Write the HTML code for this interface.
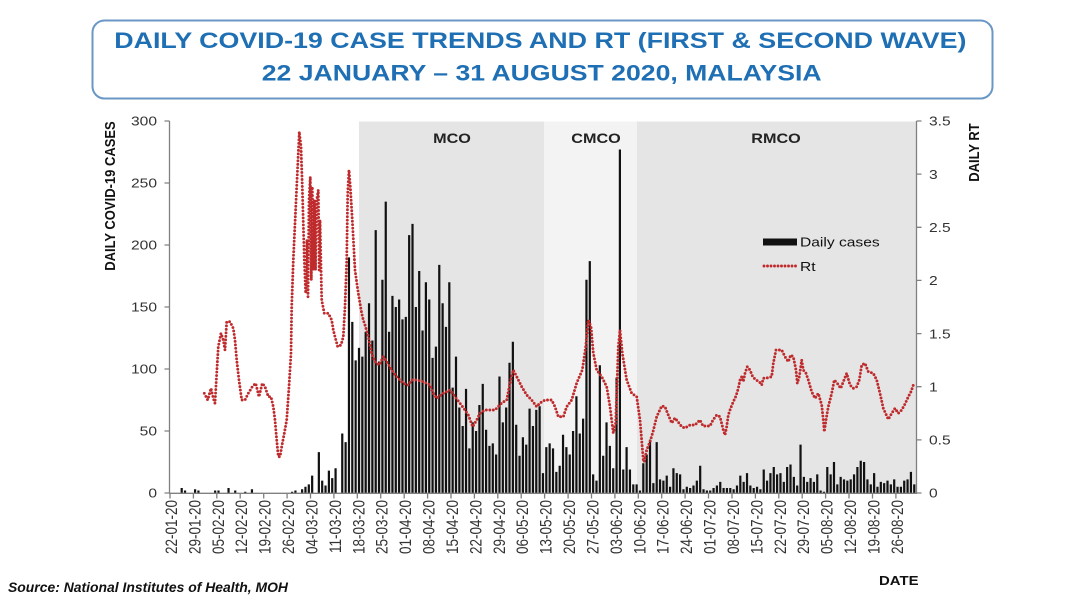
<!DOCTYPE html>
<html><head><meta charset="utf-8"><style>
html,body{margin:0;padding:0;background:#fff;width:1080px;height:607px;overflow:hidden}
svg{display:block}
</style></head><body>
<svg width="1080" height="607" viewBox="0 0 1080 607" font-family="'Liberation Sans', Arial, sans-serif">
<rect width="1080" height="607" fill="#fff"/>
<!-- Title box -->
<rect x="92.5" y="20.5" width="900" height="78" rx="12" fill="#fff" stroke="#6a97c6" stroke-width="2"/>
<text transform="translate(540.3,48) scale(1.22,1)" text-anchor="middle" font-size="22" font-weight="bold" fill="#1f6fb4">DAILY COVID-19 CASE TRENDS AND RT (FIRST &amp; SECOND WAVE)</text>
<text transform="translate(541.7,80.5) scale(1.21,1)" text-anchor="middle" font-size="22" font-weight="bold" fill="#1f6fb4">22 JANUARY – 31 AUGUST 2020, MALAYSIA</text>

<!-- Shaded regions -->
<rect x="359" y="121.5" width="185" height="371.5" fill="#e5e5e5"/>
<rect x="544" y="121.5" width="93" height="371.5" fill="#f3f3f3"/>
<rect x="637" y="121.5" width="279" height="371.5" fill="#e5e5e5"/>
<text transform="translate(452,143) scale(1.2,1)" text-anchor="middle" font-size="13.5" font-weight="bold" fill="#222">MCO</text>
<text transform="translate(596,143) scale(1.2,1)" text-anchor="middle" font-size="13.5" font-weight="bold" fill="#222">CMCO</text>
<text transform="translate(776,143) scale(1.2,1)" text-anchor="middle" font-size="13.5" font-weight="bold" fill="#222">RMCO</text>

<!-- Bars -->
<g transform="translate(170,493) scale(3.345,-1.24)" fill="#111">
<path d="M3.17 0h.66v4h-.66zM4.17 0h.66v2h-.66zM7.17 0h.66v3h-.66zM8.17 0h.66v2h-.66zM13.17 0h.66v2h-.66zM14.17 0h.66v2h-.66zM17.17 0h.66v4h-.66zM19.17 0h.66v2h-.66zM22.17 0h.66v1h-.66zM24.17 0h.66v3h-.66zM36.17 0h.66v1h-.66zM37.17 0h.66v2h-.66zM39.17 0h.66v3h-.66zM40.17 0h.66v5h-.66zM41.17 0h.66v7h-.66zM42.17 0h.66v14h-.66zM44.17 0h.66v33h-.66zM45.17 0h.66v10h-.66zM46.17 0h.66v6h-.66zM47.17 0h.66v18h-.66zM48.17 0h.66v12h-.66zM49.17 0h.66v20h-.66zM51.17 0h.66v48h-.66zM52.17 0h.66v41h-.66zM53.17 0h.66v190h-.66zM54.17 0h.66v138h-.66zM55.17 0h.66v107h-.66z
M56.17 0h.66v117h-.66zM57.17 0h.66v110h-.66zM58.17 0h.66v130h-.66zM59.17 0h.66v153h-.66zM60.17 0h.66v123h-.66zM61.17 0h.66v212h-.66zM62.17 0h.66v106h-.66zM63.17 0h.66v172h-.66zM64.17 0h.66v235h-.66zM65.17 0h.66v130h-.66z
M66.17 0h.66v159h-.66zM67.17 0h.66v150h-.66zM68.17 0h.66v156h-.66zM69.17 0h.66v140h-.66zM70.17 0h.66v142h-.66zM71.17 0h.66v208h-.66zM72.17 0h.66v217h-.66zM73.17 0h.66v150h-.66zM74.17 0h.66v179h-.66zM75.17 0h.66v131h-.66z
M76.17 0h.66v170h-.66zM77.17 0h.66v156h-.66zM78.17 0h.66v109h-.66zM79.17 0h.66v118h-.66zM80.17 0h.66v184h-.66zM81.17 0h.66v153h-.66zM82.17 0h.66v134h-.66zM83.17 0h.66v170h-.66zM84.17 0h.66v85h-.66zM85.17 0h.66v110h-.66z
M86.17 0h.66v69h-.66zM87.17 0h.66v54h-.66zM88.17 0h.66v84h-.66zM89.17 0h.66v36h-.66zM90.17 0h.66v57h-.66zM91.17 0h.66v50h-.66zM92.17 0h.66v71h-.66zM93.17 0h.66v88h-.66zM94.17 0h.66v51h-.66zM95.17 0h.66v38h-.66zM96.17 0h.66v40h-.66z
M97.17 0h.66v31h-.66zM98.17 0h.66v94h-.66zM99.17 0h.66v57h-.66zM100.17 0h.66v69h-.66zM101.17 0h.66v105h-.66zM102.17 0h.66v122h-.66zM103.17 0h.66v55h-.66zM104.17 0h.66v30h-.66zM105.17 0h.66v45h-.66zM106.17 0h.66v39h-.66z
M107.17 0h.66v68h-.66zM108.17 0h.66v54h-.66zM109.17 0h.66v67h-.66zM110.17 0h.66v70h-.66zM111.17 0h.66v16h-.66zM112.17 0h.66v37h-.66zM113.17 0h.66v40h-.66zM114.17 0h.66v36h-.66zM115.17 0h.66v17h-.66zM116.17 0h.66v22h-.66z
M117.17 0h.66v47h-.66zM118.17 0h.66v37h-.66zM119.17 0h.66v31h-.66zM120.17 0h.66v50h-.66zM121.17 0h.66v78h-.66zM122.17 0h.66v48h-.66zM123.17 0h.66v60h-.66zM124.17 0h.66v172h-.66zM125.17 0h.66v187h-.66zM126.17 0h.66v15h-.66z
M127.17 0h.66v10h-.66zM128.17 0h.66v103h-.66zM129.17 0h.66v30h-.66zM130.17 0h.66v57h-.66zM131.17 0h.66v38h-.66zM132.17 0h.66v20h-.66zM133.17 0h.66v93h-.66zM134.17 0h.66v277h-.66zM135.17 0h.66v19h-.66zM136.17 0h.66v37h-.66z
M137.17 0h.66v19h-.66zM138.17 0h.66v7h-.66zM139.17 0h.66v7h-.66zM140.17 0h.66v2h-.66z
M141.17 0h.66v24h-.66zM142.17 0h.66v31h-.66zM143.17 0h.66v43h-.66zM144.17 0h.66v8h-.66zM145.17 0h.66v41h-.66zM146.17 0h.66v11h-.66zM147.17 0h.66v10h-.66zM148.17 0h.66v14h-.66zM149.17 0h.66v5h-.66zM150.17 0h.66v20h-.66z
M151.17 0h.66v16h-.66zM152.17 0h.66v15h-.66zM153.17 0h.66v3h-.66zM154.17 0h.66v5h-.66zM155.17 0h.66v4h-.66zM156.17 0h.66v6h-.66zM157.17 0h.66v10h-.66zM158.17 0h.66v22h-.66zM159.17 0h.66v3h-.66zM160.17 0h.66v2h-.66z
M161.17 0h.66v2h-.66zM162.17 0h.66v4h-.66zM163.17 0h.66v6h-.66z
M164.17 0h.66v9h-.66zM165.17 0h.66v4h-.66zM166.17 0h.66v4h-.66zM167.17 0h.66v4h-.66zM168.17 0h.66v3h-.66zM169.17 0h.66v6h-.66zM170.17 0h.66v14h-.66zM171.17 0h.66v9h-.66zM172.17 0h.66v16h-.66zM173.17 0h.66v6h-.66z
M174.17 0h.66v4h-.66zM175.17 0h.66v5h-.66zM176.17 0h.66v3h-.66zM177.17 0h.66v19h-.66zM178.17 0h.66v10h-.66zM179.17 0h.66v16h-.66zM180.17 0h.66v21h-.66zM181.17 0h.66v15h-.66zM182.17 0h.66v16h-.66zM183.17 0h.66v9h-.66z
M184.17 0h.66v21h-.66zM185.17 0h.66v23h-.66zM186.17 0h.66v13h-.66zM187.17 0h.66v6h-.66zM188.17 0h.66v39h-.66zM189.17 0h.66v13h-.66zM190.17 0h.66v9h-.66zM191.17 0h.66v12h-.66zM192.17 0h.66v9h-.66zM193.17 0h.66v15h-.66z
M194.17 0h.66v2h-.66zM195.17 0h.66v1h-.66zM196.17 0h.66v21h-.66zM197.17 0h.66v15h-.66zM198.17 0h.66v25h-.66zM199.17 0h.66v7h-.66zM200.17 0h.66v13h-.66zM201.17 0h.66v11h-.66zM202.17 0h.66v10h-.66zM203.17 0h.66v11h-.66z
M204.17 0h.66v15h-.66zM205.17 0h.66v21h-.66zM206.17 0h.66v26h-.66zM207.17 0h.66v25h-.66zM208.17 0h.66v11h-.66zM209.17 0h.66v7h-.66zM210.17 0h.66v16h-.66zM211.17 0h.66v5h-.66zM212.17 0h.66v9h-.66zM213.17 0h.66v8h-.66z
M214.17 0h.66v10h-.66zM215.17 0h.66v7h-.66zM216.17 0h.66v11h-.66zM217.17 0h.66v5h-.66zM218.17 0h.66v5h-.66zM219.17 0h.66v10h-.66zM220.17 0h.66v11h-.66zM221.17 0h.66v17h-.66zM222.17 0h.66v7h-.66z"/>
</g>

<!-- Rt dotted line -->
<polyline fill="none" stroke="#bf2a2c" stroke-width="2.9" stroke-linecap="round" stroke-linejoin="round" stroke-dasharray="0 3.5" points="204.3,393.3 207.7,400 211,388.3 213.3,398.3 215,403.3 216.7,373.3 218.3,346.7 221,333.3 223.3,340 225,350 226.7,321.7 230,321.7 233.3,328.3 235,340 236.7,360 239,380 241.7,400 245,400 248.3,393.3 252.3,386.7 255.7,383.3 259,396.7 262.3,383.3 265,386.7 268.3,396.7 271,396.7 273.3,406.7 275,420 276.7,440 278.3,456.7 280,456.7 281.7,446.7 284.3,433.3 286.7,420 289,386.7 291,353.3 291.7,306.7 293.3,260 295,223.3 296.7,186.7 298.3,153.3 299.3,131.7 301,146.7 302.3,186.7 304.3,260 305.7,293.3 307,240 308,296.7 309,200 310.3,176.7 311.3,280 312.3,186.7 313.3,270 314.3,200 315.5,270 316.7,200 318.3,190 319.2,270 320,220 321.7,300 324.3,313.3 328.3,313.3 331.7,320 333.3,330 335,336.7 337.7,346.7 341,345 343.3,336.7 345,306.7 346.7,260 347.7,193.3 349,170 350.3,186.7 352.3,220 355,270 358.3,293.3 361.7,313.3 363.3,320 365,325 368.3,336.7 371.7,353.3 375,361.7 379.3,365 383.3,356.7 386.7,361.7 391.7,370 396.7,376.7 403.3,383.3 408.3,385 411.7,380 416.7,380 423.3,381.7 430,385 433.3,393.3 436.7,398.3 443.3,393.3 450,390 455,396.7 460,403.3 465,410 468.3,415 472.7,426.7 476.7,420 480,413.3 485,410 490,410 495,410 501.7,403 506.7,400 510,383 513.3,370 516.7,376.7 521.7,386.7 526.7,395 531.7,400 536.7,406.7 540,403 545,400 551.7,400 555,406.7 558.3,416.7 563.3,416.7 566.7,406.7 571.7,400 576.7,383 582.3,370 585.7,346.7 588.3,320 591,326.7 593.3,353 596.7,370 601.7,376.7 606.7,386.7 610,406.7 613.3,433 615.7,423 618.3,346.7 620,330 622.3,353 626.7,380 631.7,393.3 636.7,396.7 640,420 643.3,460 644,462 646.7,450 650,441.7 653,431.7 656.7,416.7 661.7,406 665,406.7 668.3,415 671.7,423 675,418 678,421.7 681.7,426.7 685,428 690,425 695,425 700,420 703,426 710,426 713,420 716.7,415 720,416.7 723.3,430 725,435 726.7,426.7 728.3,415 730.7,408 733.3,401.7 736,396 738.3,388.3 740,380 741.7,376.7 743.3,381.7 745,373.3 747.3,366.7 750,370 752.7,376.7 756,380 759.3,381.7 761.7,385 763.3,378.3 768.3,377.7 771.7,376.7 773.3,363.3 776,350 781.7,350 785,356.7 788.3,361.7 790.7,355 793.3,356.7 796,370 797.3,383.3 799.3,376.7 801.7,360 803.3,370 806,373.3 808.3,380 811.7,391.7 815,398.3 818.3,393.3 821.7,405 823.3,420 824.3,431.7 826,420 828.3,406.7 831.7,393.3 834.3,380 837.3,383.3 840.7,388.3 843.3,381.7 846.7,373.3 850,385 853.3,388.3 856.7,386.7 859.3,380 861.7,365 865,363.3 868.3,371.7 873.3,373.3 876.7,380 880,393.3 883.3,408.3 888.3,419.3 891.7,413.3 895,408.3 898.3,413.3 901.7,410 905,404 908.3,396.7 911,391.7 913.3,385"/>

<!-- Legend -->
<rect x="763" y="238.5" width="34" height="7" fill="#111"/>
<text transform="translate(800,246.5) scale(1.2,1)" font-size="13" fill="#111">Daily cases</text>
<line x1="764" y1="266" x2="796" y2="266" stroke="#bf2a2c" stroke-width="2.9" stroke-linecap="round" stroke-dasharray="0 3.5"/>
<text transform="translate(800,271) scale(1.2,1)" font-size="13" fill="#111">Rt</text>

<!-- Axes -->
<g stroke="#808080" stroke-width="1.3" fill="none">
<line x1="169.5" y1="121" x2="169.5" y2="493.5"/>
<line x1="916.5" y1="121" x2="916.5" y2="493.5"/>
<line x1="169" y1="493.3" x2="917" y2="493.3"/>
<path d="M164.5 121H169.5M164.5 183H169.5M164.5 245H169.5M164.5 307H169.5M164.5 369H169.5M164.5 431H169.5M164.5 493H169.5"/>
<path d="M916.5 121H921.5M916.5 174.1H921.5M916.5 227.3H921.5M916.5 280.4H921.5M916.5 333.6H921.5M916.5 386.7H921.5M916.5 439.9H921.5M916.5 493H921.5"/>
<path d="M170 493V498.5M193.4 493V498.5M216.8 493V498.5M240.2 493V498.5M263.7 493V498.5M287.1 493V498.5M310.5 493V498.5M333.9 493V498.5M357.3 493V498.5M380.7 493V498.5M404.2 493V498.5M427.6 493V498.5M451 493V498.5M474.4 493V498.5M497.8 493V498.5M521.2 493V498.5M544.6 493V498.5M568.1 493V498.5M591.5 493V498.5M614.9 493V498.5M638.3 493V498.5M661.7 493V498.5M685.1 493V498.5M708.5 493V498.5M732 493V498.5M755.4 493V498.5M778.8 493V498.5M802.2 493V498.5M825.6 493V498.5M849 493V498.5M872.5 493V498.5M895.9 493V498.5"/>
</g>

<!-- Left tick labels -->
<g font-size="13" fill="#333" text-anchor="end">
<text transform="translate(157,125.7) scale(1.2,1)">300</text>
<text transform="translate(157,187.7) scale(1.2,1)">250</text>
<text transform="translate(157,249.7) scale(1.2,1)">200</text>
<text transform="translate(157,311.7) scale(1.2,1)">150</text>
<text transform="translate(157,373.7) scale(1.2,1)">100</text>
<text transform="translate(157,435.7) scale(1.2,1)">50</text>
<text transform="translate(157,497.7) scale(1.2,1)">0</text>
</g>
<!-- Right tick labels -->
<g font-size="13" fill="#333">
<text transform="translate(929,125.7) scale(1.2,1)">3.5</text>
<text transform="translate(929,178.8) scale(1.2,1)">3</text>
<text transform="translate(929,232) scale(1.2,1)">2.5</text>
<text transform="translate(929,285.1) scale(1.2,1)">2</text>
<text transform="translate(929,338.3) scale(1.2,1)">1.5</text>
<text transform="translate(929,391.4) scale(1.2,1)">1</text>
<text transform="translate(929,444.6) scale(1.2,1)">0.5</text>
<text transform="translate(929,497.7) scale(1.2,1)">0</text>
</g>

<!-- Axis titles -->
<text transform="translate(115,196) rotate(-90) scale(1,1.15)" text-anchor="middle" font-size="13" font-weight="bold" fill="#111">DAILY COVID-19 CASES</text>
<text transform="translate(979,152.5) rotate(-90) scale(1,1.15)" text-anchor="middle" font-size="13" font-weight="bold" fill="#111">DAILY RT</text>

<!-- X tick labels -->
<g font-size="13.5" fill="#333" text-anchor="end">
<text transform="translate(177,500) rotate(-90) scale(1,1.2)">22-01-20</text>
<text transform="translate(200.4,500) rotate(-90) scale(1,1.2)">29-01-20</text>
<text transform="translate(223.8,500) rotate(-90) scale(1,1.2)">05-02-20</text>
<text transform="translate(247.2,500) rotate(-90) scale(1,1.2)">12-02-20</text>
<text transform="translate(270.7,500) rotate(-90) scale(1,1.2)">19-02-20</text>
<text transform="translate(294.1,500) rotate(-90) scale(1,1.2)">26-02-20</text>
<text transform="translate(317.5,500) rotate(-90) scale(1,1.2)">04-03-20</text>
<text transform="translate(340.9,500) rotate(-90) scale(1,1.2)">11-03-20</text>
<text transform="translate(364.3,500) rotate(-90) scale(1,1.2)">18-03-20</text>
<text transform="translate(387.7,500) rotate(-90) scale(1,1.2)">25-03-20</text>
<text transform="translate(411.2,500) rotate(-90) scale(1,1.2)">01-04-20</text>
<text transform="translate(434.6,500) rotate(-90) scale(1,1.2)">08-04-20</text>
<text transform="translate(458,500) rotate(-90) scale(1,1.2)">15-04-20</text>
<text transform="translate(481.4,500) rotate(-90) scale(1,1.2)">22-04-20</text>
<text transform="translate(504.8,500) rotate(-90) scale(1,1.2)">29-04-20</text>
<text transform="translate(528.2,500) rotate(-90) scale(1,1.2)">06-05-20</text>
<text transform="translate(551.6,500) rotate(-90) scale(1,1.2)">13-05-20</text>
<text transform="translate(575.1,500) rotate(-90) scale(1,1.2)">20-05-20</text>
<text transform="translate(598.5,500) rotate(-90) scale(1,1.2)">27-05-20</text>
<text transform="translate(621.9,500) rotate(-90) scale(1,1.2)">03-06-20</text>
<text transform="translate(645.3,500) rotate(-90) scale(1,1.2)">10-06-20</text>
<text transform="translate(668.7,500) rotate(-90) scale(1,1.2)">17-06-20</text>
<text transform="translate(692.1,500) rotate(-90) scale(1,1.2)">24-06-20</text>
<text transform="translate(715.5,500) rotate(-90) scale(1,1.2)">01-07-20</text>
<text transform="translate(739,500) rotate(-90) scale(1,1.2)">08-07-20</text>
<text transform="translate(762.4,500) rotate(-90) scale(1,1.2)">15-07-20</text>
<text transform="translate(785.8,500) rotate(-90) scale(1,1.2)">22-07-20</text>
<text transform="translate(809.2,500) rotate(-90) scale(1,1.2)">29-07-20</text>
<text transform="translate(832.6,500) rotate(-90) scale(1,1.2)">05-08-20</text>
<text transform="translate(856,500) rotate(-90) scale(1,1.2)">12-08-20</text>
<text transform="translate(879.5,500) rotate(-90) scale(1,1.2)">19-08-20</text>
<text transform="translate(902.9,500) rotate(-90) scale(1,1.2)">26-08-20</text>
</g>

<text transform="translate(879,585) scale(1.15,1)" font-size="13" font-weight="bold" fill="#111">DATE</text>
<text x="8" y="592" font-size="14" font-weight="bold" font-style="italic" fill="#111" textLength="280" lengthAdjust="spacingAndGlyphs">Source: National Institutes of Health, MOH</text>
</svg>
</body></html>
